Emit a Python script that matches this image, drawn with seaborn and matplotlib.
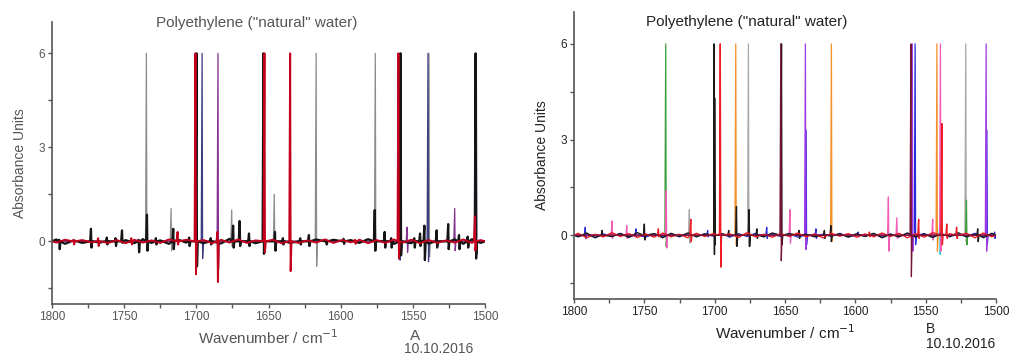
import pandas as pd
import seaborn as sns
import matplotlib.pyplot as plt
from matplotlib.ticker import MultipleLocator

# ---- panel A: peaks (cm-1, top, dip, trace) ----
a_pos = [1734.6, 1700.6, 1699.9, 1696.0, 1685.0, 1685.4, 1653.5, 1652.8, 1635.0, 1617.0,
         1576.0, 1560.0, 1559.2, 1558.5, 1539.5, 1538.8, 1506.5, 1506.0,
         1795.0, 1785.0, 1773.0, 1768.0, 1762.0, 1756.0, 1751.5, 1745.0, 1740.0, 1734.2,
         1728.0, 1717.5, 1716.0, 1713.0, 1705.0, 1690.0, 1675.5, 1674.5, 1670.0, 1663.5,
         1646.0, 1645.5, 1640.0, 1628.0, 1622.0, 1610.0, 1598.0, 1590.0, 1576.4, 1569.5,
         1565.0, 1554.0, 1549.0, 1545.0, 1542.0, 1533.5, 1525.5, 1521.0, 1518.0, 1512.0, 1507.0]
a_top = [6, 6, 6, 6, 6, 0.3, 6, 6, 6, 6,
         6, 6, 6, 6, 6, 6, 6, 6,
         0.05, 0.05, 0.4, 0.1, 0.12, 0.1, 0.35, 0.1, 0.05, 0.85,
         0.1, 1.05, 0.4, 0.3, 0.12, 0.1, 1.0, 0.5, 0.65, 0.25,
         1.5, 0.3, 0.1, 0.1, 0.2, 0.05, 0.08, 0.05, 1.0, 0.3,
         0.1, 0.45, 0.1, 0.25, 0.5, 0.35, 0.55, 1.05, 0.2, 0.15, 0.8]
a_dip = [-0.3, -1.05, -0.8, -0.55, -0.9, -1.3, -0.4, -0.35, -0.95, -0.8,
         -0.3, -0.55, -0.6, -0.45, -0.65, -0.5, -0.55, -0.4,
         -0.25, -0.1, -0.2, -0.15, -0.1, -0.15, -0.05, -0.1, -0.35, -0.3,
         -0.1, -0.3, -0.25, -0.1, -0.15, -0.1, -0.15, -0.2, -0.15, -0.15,
         -0.2, -0.3, -0.1, -0.1, -0.15, -0.1, -0.08, -0.08, -0.3, -0.2,
         -0.2, -0.35, -0.2, -0.15, -0.6, -0.2, -0.25, -0.3, -0.25, -0.2, -0.3]
a_trace = ['gray', 'red', 'black', 'navy', 'purple', 'red', 'black', 'red', 'red', 'gray',
           'gray', 'red', 'navy', 'black', 'navy', 'gray', 'black', 'navy',
           'black', 'red', 'black', 'red', 'black', 'black', 'black', 'red', 'black', 'black',
           'black', 'gray', 'black', 'red', 'black', 'black', 'gray', 'black', 'black', 'black',
           'gray', 'black', 'black', 'black', 'black', 'black', 'black', 'red', 'black', 'black',
           'black', 'purple', 'black', 'black', 'black', 'black', 'black', 'purple', 'black', 'black', 'red']
a_colors = {'black': '#151515', 'red': '#c4001c', 'navy': '#3c3c80',
            'purple': '#84338e', 'gray': '#8c8c8c'}

# ---- panel B ----
b_pos = [1734.8, 1734.4, 1700.5, 1700.0, 1696.0, 1685.0, 1676.0, 1653.0, 1652.5, 1635.5,
         1635.0, 1617.0, 1560.5, 1559.5, 1557.5, 1542.0, 1539.5, 1538.5, 1521.5, 1507.0,
         1506.5, 1792.0, 1780.0, 1773.0, 1762.5, 1756.0, 1750.0, 1740.0, 1718.0, 1717.0,
         1705.0, 1690.0, 1684.5, 1675.5, 1670.0, 1663.0, 1646.5, 1640.0, 1628.0, 1622.0,
         1617.4, 1598.0, 1590.0, 1576.5, 1570.5, 1555.0, 1545.0, 1540.0, 1535.0, 1528.0,
         1521.0, 1513.0, 1501.0]
b_top = [6, 1.4, 6, 4.3, 6, 6, 6, 6, 6, 6,
         3.3, 6, 6, 6, 6, 6, 6, 3.5, 6, 6,
         3.3, 0.25, 0.15, 0.45, 0.3, 0.2, 0.35, 0.2, 0.8, 0.5,
         0.15, 0.15, 0.9, 0.8, 0.2, 0.25, 0.8, 0.15, 0.2, 0.15,
         0.3, 0.1, 0.1, 1.2, 0.55, 0.5, 0.5, 0.3, 0.35, 0.25,
         1.1, 0.2, 0.1]
b_dip = [-0.35, -0.4, -0.6, -0.3, -1.0, -0.3, -0.35, -0.8, -0.3, -0.45,
         -0.3, -0.2, -1.3, -0.5, -0.3, -0.5, -0.5, -0.3, -0.2, -0.5,
         -0.3, -0.1, -0.05, -0.1, -0.1, -0.05, -0.15, -0.05, -0.25, -0.2,
         -0.05, -0.05, -0.35, -0.35, -0.1, -0.1, -0.25, -0.1, -0.1, -0.1,
         -0.2, -0.05, -0.05, -0.5, -0.1, -0.1, -0.15, -0.6, -0.1, -0.1,
         -0.3, -0.2, -0.1]
b_trace = ['green', 'pink', 'black', 'black', 'red', 'orange', 'gray', 'darkred', 'black', 'purple',
           'blue', 'orange', 'darkred', 'purple', 'blue', 'orange', 'pink', 'red', 'gray', 'purple',
           'blue', 'blue', 'black', 'pink', 'pink', 'blue', 'black', 'red', 'gray', 'red',
           'blue', 'black', 'black', 'black', 'black', 'blue', 'pink', 'black', 'blue', 'black',
           'black', 'blue', 'red', 'pink', 'pink', 'red', 'pink', 'cyan', 'red', 'red',
           'green', 'black', 'blue']
b_colors = {'black': '#1a1a1a', 'red': '#ee1c25', 'blue': '#2828d8', 'green': '#3a9e3a',
            'orange': '#f5902a', 'pink': '#f25cb4', 'purple': '#9b3be6', 'gray': '#a8a8a8',
            'darkred': '#7a1232', 'cyan': '#22c4d4'}

# baseline ripple, read roughly off the noise band around zero
ripple_wn = [1797, 1791, 1785, 1779, 1773, 1767, 1761, 1755, 1749, 1743,
             1737, 1731, 1725, 1719, 1713, 1707, 1701, 1695, 1689, 1683,
             1677, 1671, 1665, 1659, 1653, 1647, 1641, 1635, 1629, 1623,
             1617, 1611, 1605, 1599, 1593, 1587, 1581, 1575, 1569, 1563,
             1557, 1551, 1545, 1539, 1533, 1527, 1521, 1515, 1509, 1503]
ripple_1 = [0.06, -0.08, 0.03, -0.05, 0.08, -0.04, 0.05, -0.07, 0.04, -0.06,
            0.07, -0.05, 0.03, -0.08, 0.06, -0.04, 0.05, -0.06, 0.04, -0.07,
            0.08, -0.05, 0.03, -0.06, 0.05, -0.04, 0.07, -0.05, 0.04, -0.08,
            0.06, -0.03, 0.05, -0.06, 0.04, -0.05, 0.07, -0.04, 0.06, -0.08,
            0.05, -0.06, 0.08, -0.07, 0.05, -0.04, 0.06, -0.08, 0.07, -0.05]
ripple_2 = [-0.04, 0.05, -0.06, 0.04, -0.03, 0.06, -0.05, 0.04, -0.06, 0.05,
            -0.04, 0.03, -0.05, 0.06, -0.04, 0.05, -0.03, 0.04, -0.06, 0.05,
            -0.04, 0.06, -0.05, 0.03, -0.04, 0.05, -0.06, 0.04, -0.05, 0.03,
            -0.04, 0.06, -0.05, 0.04, -0.03, 0.05, -0.06, 0.04, -0.05, 0.06,
            -0.04, 0.05, -0.06, 0.04, -0.05, 0.03, -0.04, 0.06, -0.05, 0.04]

wn_lo, wn_hi = 1500, 1800


def build_frame(pos, top, dip, trace, ripples):
    rows = []
    for name in dict.fromkeys(list(trace) + list(ripples)):
        peaks = [(p, t, d) for p, t, d, n in zip(pos, top, dip, trace) if n == name]
        pts = [(wn_hi, 0.0), (wn_lo, 0.0)]
        for p, t, d in peaks:
            pts += [(p + 0.6, 0.0), (p, t), (p - 0.35, d), (p - 0.9, 0.0)]
        if name in ripples:
            for w, v in zip(ripple_wn, ripples[name]):
                if all(abs(w - p) > 1.5 for p, _, _ in peaks):
                    pts.append((w, v))
        pts.sort(key=lambda q: -q[0])
        rows += [(name, w, v) for w, v in pts]
    return pd.DataFrame(rows, columns=['trace', 'wn', 'absorbance'])


def draw_panel(ax, df, colors, order, widths, text_color, title_x, title_y):
    for name in order:
        sub = df[df['trace'] == name]
        sns.lineplot(data=sub, x='wn', y='absorbance', ax=ax, sort=False, estimator=None,
                     color=colors[name], linewidth=widths.get(name, 0.9))
    ax.set_xlim(wn_hi, wn_lo)
    ax.set_ylim(-2, 7)
    ax.xaxis.set_major_locator(MultipleLocator(50))
    ax.xaxis.set_minor_locator(MultipleLocator(25))
    ax.yaxis.set_major_locator(MultipleLocator(3))
    ax.yaxis.set_minor_locator(MultipleLocator(1.5))
    ax.tick_params(which='both', direction='out', length=3, width=1, bottom=True, left=True,
                   colors='#555555', labelcolor=text_color, labelsize=8.5, pad=2)
    for s in ['top', 'right']:
        ax.spines[s].set_visible(False)
    for s in ['left', 'bottom']:
        ax.spines[s].set_color('#555555')
        ax.spines[s].set_linewidth(1.2)
    ax.set_xlabel('Wavenumber / cm$^{-1}$', color=text_color, fontsize=11, labelpad=4)
    ax.set_ylabel('Absorbance Units', color=text_color, fontsize=10, labelpad=8)
    ax.text(title_x, title_y, 'Polyethylene ("natural" water)', transform=ax.transAxes,
            color=text_color, fontsize=11, ha='center', va='center')
    ax.grid(False)


sns.set_style('ticks')
plt.rcParams['font.family'] = ['Liberation Sans', 'DejaVu Sans']

fig = plt.figure(figsize=(10.09, 3.54), dpi=100)
ax_a = fig.add_axes([52 / 1009, 1 - 304 / 354, 433 / 1009, 282 / 354])
ax_b = fig.add_axes([574 / 1009, 1 - 299 / 354, 422 / 1009, 287 / 354])

df_a = build_frame(a_pos, a_top, a_dip, a_trace, {'black': ripple_1, 'red': ripple_2})
df_b = build_frame(b_pos, b_top, b_dip, b_trace,
                   {'blue': ripple_2, 'black': ripple_1[::-1], 'red': ripple_1})

draw_panel(ax_a, df_a, a_colors, ['gray', 'navy', 'purple', 'black', 'red'],
           {'black': 1.6, 'red': 1.4}, '#555555', 0.473, 0.995)
draw_panel(ax_b, df_b, b_colors, ['gray', 'green', 'orange', 'cyan', 'pink', 'blue', 'purple',
                                  'black', 'red', 'darkred'],
           {'black': 1.0, 'red': 1.0, 'blue': 0.9}, '#222222', 0.41, 0.965)

fig.text(410 / 1009, 1 - 336 / 354, 'A', color='#555555', fontsize=11, va='center')
fig.text(404 / 1009, 1 - 349 / 354, '10.10.2016', color='#555555', fontsize=10, va='center')
fig.text(926 / 1009, 1 - 329 / 354, 'B', color='#222222', fontsize=10, va='center')
fig.text(926 / 1009, 1 - 344 / 354, '10.10.2016', color='#222222', fontsize=10, va='center')

fig.savefig('out.png', dpi=100)
